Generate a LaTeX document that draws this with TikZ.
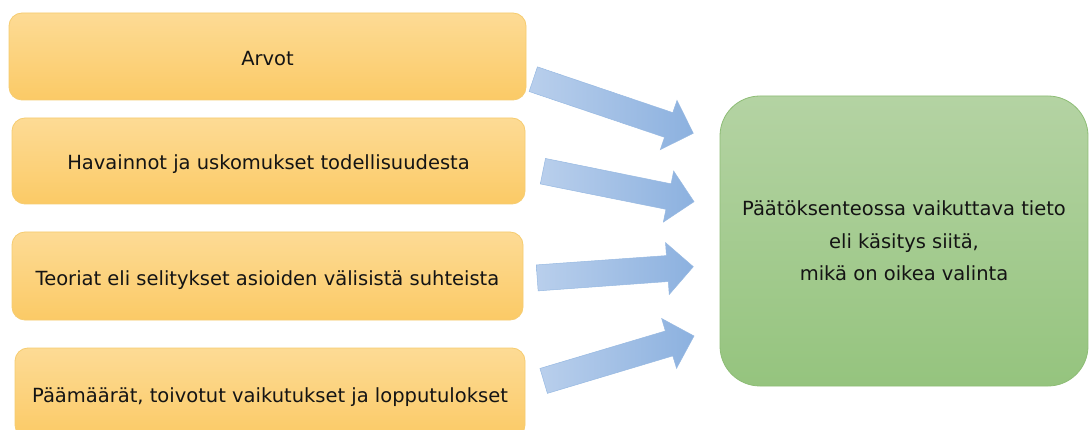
\documentclass[tikz,border=0pt]{standalone}
\usepackage{fontspec}
\setmainfont{DejaVu Sans}
\usetikzlibrary{calc}

\definecolor{boxtop}{HTML}{FDDB95}
\definecolor{boxbot}{HTML}{FBCA66}
\definecolor{boxline}{HTML}{F6CC70}
\definecolor{goaltop}{HTML}{B4D3A3}
\definecolor{goalbot}{HTML}{95C47E}
\definecolor{goalline}{HTML}{8EBD76}
\definecolor{arrowlight}{HTML}{B9CFEC}
\definecolor{arrowdark}{HTML}{8CB1DF}
\definecolor{ink}{HTML}{141414}

\tikzset{
  srcbox/.style={draw=boxline, line width=0.8pt, rounded corners=13pt,
    top color=boxtop, bottom color=boxbot, text=ink, inner sep=0pt,
    text height=18pt, text depth=0pt,
    font=\fontsize{19.5}{24}\selectfont},
  goalbox/.style={draw=goalline, line width=0.8pt, rounded corners=40pt,
    top color=goaltop, bottom color=goalbot, text=ink, inner sep=0pt,
    align=center, font=\fontsize{19.5}{32.5}\selectfont},
  arrowfill/.style={left color=arrowlight, right color=arrowdark,
    draw=arrowdark!90!white, line width=0.5pt}
}

% block arrow from tail coordinate #1 to tip coordinate #2
\newcommand\blockarrow[2]{%
  \coordinate (#1b) at ($(#2)!26pt!(#1)$);
  \path[arrowfill]
    ($(#1)!13pt!90:(#2)$) -- ($(#1b)!13pt!90:(#2)$) --
    ($(#1b)!26pt!90:(#2)$) -- (#2) --
    ($(#1b)!26pt!-90:(#2)$) -- ($(#1b)!13pt!-90:(#2)$) --
    ($(#1)!13pt!-90:(#2)$) -- cycle;
}

\begin{document}
\begin{tikzpicture}[x=1pt,y=-1pt]
  \useasboundingbox (0,0) rectangle (1089,430);
  \fill[white] (0,0) rectangle (1089,430);

  % source boxes
  \node[srcbox, minimum width=517pt, minimum height=87pt] (b1) at (267.5,56.5) {Arvot};
  \node[srcbox, minimum width=513pt, minimum height=86pt] (b2) at (268.5,161) {Havainnot ja uskomukset todellisuudesta};
  \node[srcbox, minimum width=511pt, minimum height=88pt] (b3) at (267.5,276) {Teoriat eli selitykset asioiden välisistä suhteista};
  \node[srcbox, minimum width=510pt, minimum height=90pt] (b4) at (270,393) {Päämäärät, toivotut vaikutukset ja lopputulokset};

  % target box
  \node[goalbox, minimum width=368pt, minimum height=290pt] (g) at (904,241)
    {Päätöksenteossa vaikuttava tieto\\eli käsitys siitä,\\mikä on oikea valinta};

  % arrow tails and tips
  \coordinate (t1) at (533.3,79.2);  \coordinate (h1) at (693.3,133.3);
  \coordinate (t2) at (542.9,171.2); \coordinate (h2) at (694,201.7);
  \coordinate (t3) at (537.2,277.9); \coordinate (h3) at (693.3,266.7);
  \coordinate (t4) at (543.7,380.9); \coordinate (h4) at (694,336);

  \blockarrow{t1}{h1}
  \blockarrow{t2}{h2}
  \blockarrow{t3}{h3}
  \blockarrow{t4}{h4}
\end{tikzpicture}
\end{document}
